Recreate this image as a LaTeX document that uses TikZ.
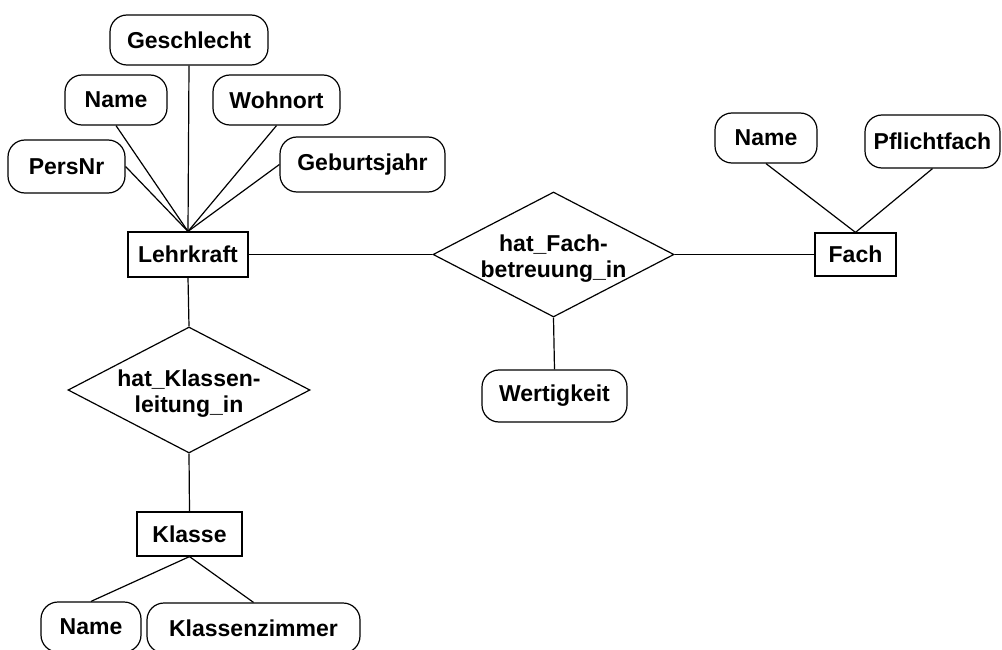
\documentclass[tikz,border=0pt]{standalone}
\usepackage{fontspec}
\setmainfont{Liberation Sans}
\usetikzlibrary{shapes.geometric}
\tikzset{
  every node/.style={font=\fontsize{23}{26}\selectfont\bfseries},
  attr/.style={draw, rounded corners=17pt, inner sep=0pt, line width=1.2pt},
  ent/.style={draw, rectangle, inner sep=0pt, line width=1.2pt},
  rel/.style={draw, diamond, inner sep=0pt, line width=1.2pt},
  conn/.style={line width=1.2pt},
}
\begin{document}
\begin{tikzpicture}[x=1pt,y=-1pt]
\fill[white] (0,0) rectangle (1002,650);
\useasboundingbox (0,0) rectangle (1002,650);
% Lehrkraft
\node[ent, minimum width=120pt, minimum height=45pt] (lk) at (188,254.5) {Lehrkraft};
\node[attr, minimum width=158pt, minimum height=50pt] (gs) at (189,40) {Geschlecht};
\node[attr, minimum width=102pt, minimum height=50pt] (nm) at (116,100) {Name};
\node[attr, minimum width=127pt, minimum height=50pt] (wo) at (276.5,100) {Wohnort};
\node[attr, minimum width=117pt, minimum height=53pt] (pn) at (66.5,166.5) {PersNr};
\node[attr, minimum width=165pt, minimum height=55pt] (gj) at (362.5,164.5) {Geburtsjahr};
% Fachbetreuung
\node[rel, minimum width=241pt, minimum height=125pt,
  label={[align=center, yshift=-4pt]center:{hat\_Fach-\\betreuung\_in}}] (fb) at (553.5,254.5) {};
\node[ent, minimum width=81pt, minimum height=43pt] (fa) at (855.5,254.5) {Fach};
\node[attr, minimum width=102pt, minimum height=50pt] (fn) at (766,138) {Name};
\node[attr, minimum width=135pt, minimum height=53pt] (pf) at (932.5,141.5) {Pflichtfach};
\node[attr, minimum width=145pt, minimum height=52pt] (wt) at (554.5,396) {Wertigkeit};
% Klassenleitung
\node[rel, minimum width=242pt, minimum height=126pt,
  label={[align=center, yshift=-4pt]center:{hat\_Klassen-\\leitung\_in}}] (kl) at (189,390) {};
\node[ent, minimum width=105pt, minimum height=44pt] (ks) at (189.5,534) {Klasse};
\node[attr, minimum width=100pt, minimum height=50pt] (kn) at (91,627) {Name};
\node[attr, minimum width=213pt, minimum height=50pt] (kz) at (253.5,628) {Klassenzimmer};
% connectors
\draw[conn] (pn.east) -- (lk.north);
\draw[conn] (nm.south) -- (lk.north);
\draw[conn] (gs.south) -- (lk.north);
\draw[conn] (wo.south) -- (lk.north);
\draw[conn] (gj.west) -- (lk.north);
\draw[conn] (lk.east) -- (fb.west);
\draw[conn] (fb.east) -- (fa.west);
\draw[conn] (fn.south) -- (fa.north);
\draw[conn] (pf.south) -- (fa.north);
\draw[conn] (fb.south) -- (wt.north);
\draw[conn] (lk.south) -- (kl.north);
\draw[conn] (kl.south) -- (ks.north);
\draw[conn] (ks.south) -- (kn.north);
\draw[conn] (ks.south) -- (kz.north);
\end{tikzpicture}
\end{document}
